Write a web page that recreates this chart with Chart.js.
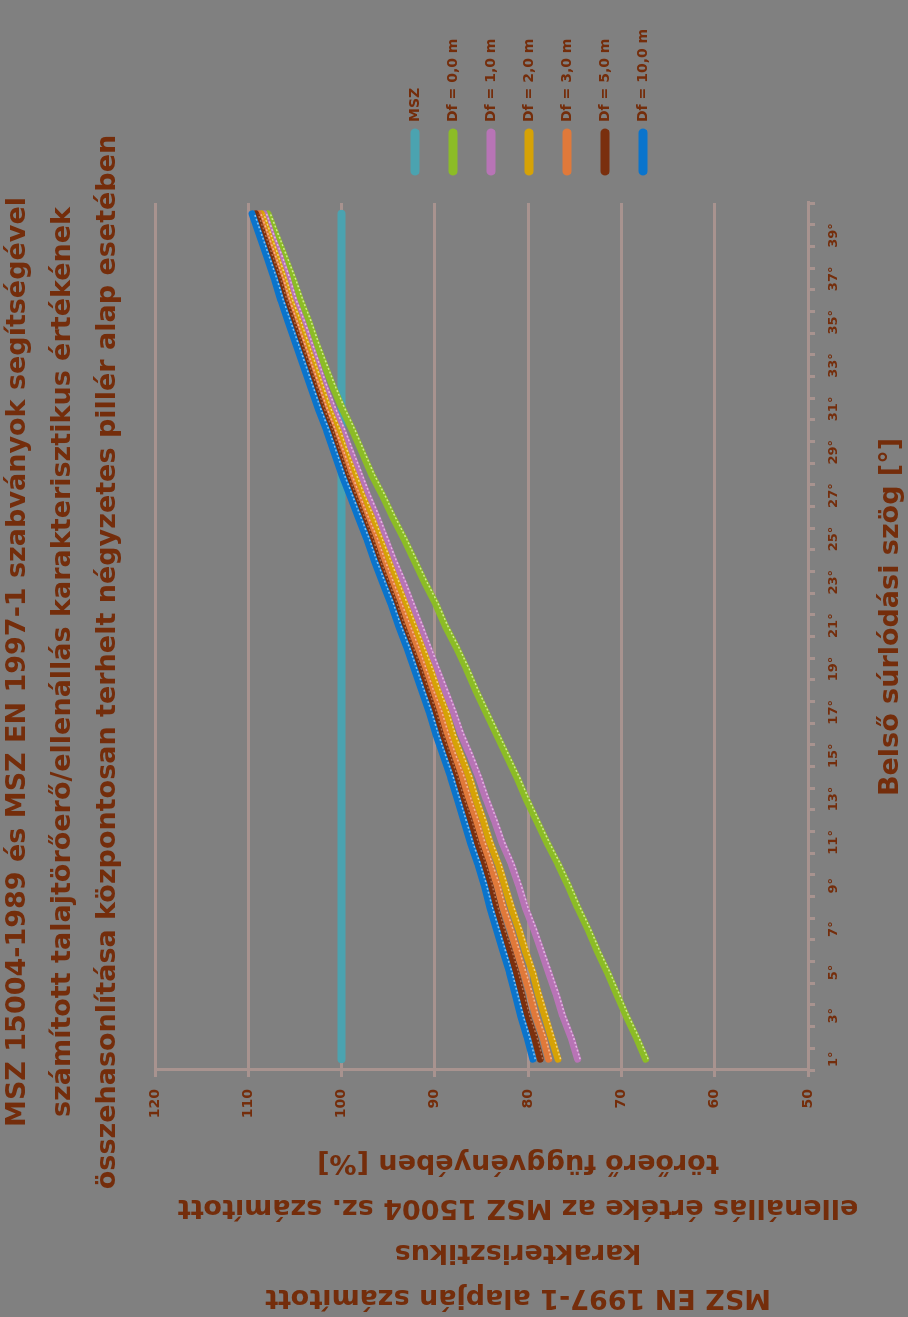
<!DOCTYPE html>
<html>
<head>
<meta charset="utf-8">
<script src="https://cdn.jsdelivr.net/npm/chart.js@4.4.1/dist/chart.umd.min.js"></script>
<style>
  html, body { margin: 0; padding: 0; background: #808080; overflow: hidden; }
  #wrap {
    position: absolute; left: 0; top: 0;
    width: 1317px; height: 908px;
    transform-origin: 0 0;
    transform: translate(0, 1317px) rotate(-90deg);
  }
</style>
</head>
<body>
<div id="wrap"><canvas id="chart" width="1317" height="908"></canvas></div>
<script>
const degrees = ['1°','2°','3°','4°','5°','6°','7°','8°','9°','10°','11°','12°','13°','14°','15°','16°','17°','18°','19°','20°',
    '21°','22°','23°','24°','25°','26°','27°','28°','29°','30°','31°','32°','33°','34°','35°','36°','37°','38°','39°','40°'];

const msz = [100,100,100,100,100,100,100,100,100,100,100,100,100,100,100,100,100,100,100,100,
    100,100,100,100,100,100,100,100,100,100,100,100,100,100,100,100,100,100,100,100];
const df00 = [67.4,68.4,69.5,70.5,71.5,72.6,73.6,74.7,75.7,76.8,78.0,79.1,80.2,81.2,82.3,83.4,84.5,85.6,86.6,87.7,
    88.9,89.9,91.1,92.2,93.3,94.5,95.6,96.8,97.8,98.8,99.9,100.9,101.8,102.7,103.5,104.4,105.2,106.1,107.0,107.9];
const df10 = [74.7,75.4,76.3,77.0,77.8,78.6,79.4,80.3,81.0,81.8,82.8,83.6,84.5,85.3,86.2,87.2,88.0,88.9,89.8,90.7,
    91.6,92.5,93.4,94.4,95.3,96.2,97.2,98.1,99.0,99.9,100.9,101.8,102.6,103.4,104.2,105.1,105.8,106.6,107.5,108.3];
const df20 = [76.8,77.5,78.2,78.9,79.5,80.3,81.0,81.8,82.5,83.2,84.1,84.8,85.6,86.3,87.2,88.1,88.8,89.7,90.5,91.4,
    92.3,93.2,94.1,95.0,95.9,96.8,97.8,98.7,99.6,100.4,101.4,102.2,103.0,103.8,104.6,105.5,106.2,107.0,107.8,108.6];
const df30 = [77.8,78.4,79.2,79.8,80.5,81.2,81.9,82.7,83.3,84.1,84.9,85.6,86.4,87.1,88.0,88.8,89.5,90.4,91.2,92.0,
    92.9,93.8,94.7,95.6,96.4,97.4,98.3,99.2,100.0,100.9,101.8,102.6,103.4,104.2,105.0,105.8,106.5,107.3,108.1,108.9];
const df50 = [78.7,79.3,80.1,80.7,81.3,82.0,82.8,83.5,84.1,84.8,85.6,86.3,87.1,87.8,88.6,89.4,90.1,90.9,91.7,92.6,
    93.5,94.3,95.2,96.1,96.9,97.8,98.7,99.6,100.4,101.2,102.1,102.9,103.7,104.5,105.3,106.1,106.8,107.6,108.4,109.2];
const df100 = [79.5,80.1,80.8,81.4,82.0,82.7,83.4,84.1,84.7,85.4,86.2,86.9,87.6,88.3,89.1,89.9,90.6,91.4,92.2,93.0,
    93.9,94.7,95.6,96.5,97.3,98.2,99.1,100.0,100.8,101.6,102.5,103.3,104.1,104.9,105.7,106.5,107.2,108.0,108.8,109.6];

const seriesNames = ['MSZ', 'Df = 0,0 m', 'Df = 1,0 m', 'Df = 2,0 m', 'Df = 3,0 m', 'Df = 5,0 m', 'Df = 10,0 m'];
const seriesColors = ['#4ba3b0', '#8cbc26', '#b874b6', '#d6a206', '#e0793a', '#7a2f0e', '#0a74cc'];
const stripeColors = ['#8fd0da', '#cfe98f', '#e3b8e3', '#f3d27a', '#f5b58c', '#b0704f', '#7fc0f5'];

const titleLines = [
    'MSZ 15004-1989 és MSZ EN 1997-1 szabványok segítségével',
    'számított talajtörőerő/ellenállás karakterisztikus értékének',
    'összehasonlítása központosan terhelt négyzetes pillér alap esetében'
];
const yTitleLines = [
    'MSZ EN 1997-1 alapján számított',
    'karakterisztikus',
    'ellenállás értéke az MSZ 15004 sz. számított',
    'törőerő függvényében [%]'
];
const xTitle = 'Belső súrlódási szög [°]';

const textColor = '#742d0b';
const gridColor = '#a8938f';
const fontFamily = '"DejaVu Sans", sans-serif';

const values = [msz, df00, df10, df20, df30, df50, df100];

// light dotted edge on the series lines, like the excel line texture
const stripePlugin = {
    id: 'stripes',
    afterDatasetsDraw(chart) {
        const ctx = chart.ctx;
        ctx.save();
        ctx.beginPath();
        ctx.rect(chart.chartArea.left, chart.chartArea.top - 10, chart.chartArea.width, chart.chartArea.height + 20);
        ctx.clip();
        for (let i = chart.data.datasets.length - 1; i >= 1; i--) {
            const pts = chart.getDatasetMeta(i).data;
            ctx.strokeStyle = stripeColors[i];
            ctx.lineWidth = 1.5;
            ctx.setLineDash([2, 2]);
            ctx.beginPath();
            pts.forEach((p, j) => {
                if (j === 0) ctx.moveTo(p.x, p.y + 2.5);
                else ctx.lineTo(p.x, p.y + 2.5);
            });
            ctx.stroke();
        }
        ctx.restore();
    }
};

const textPlugin = {
    id: 'texts',
    afterDraw(chart) {
        const ctx = chart.ctx;
        ctx.save();
        ctx.fillStyle = textColor;
        ctx.font = 'bold 27px ' + fontFamily;
        ctx.textAlign = 'center';
        ctx.textBaseline = 'alphabetic';
        titleLines.forEach((t, i) => ctx.fillText(t, 655, 25 + i * 45));
        ctx.fillText(xTitle, 700, 898);

        yTitleLines.forEach((t, i) => {
            ctx.save();
            ctx.translate(27 + i * 45, 518);
            ctx.rotate(-Math.PI / 2);
            ctx.fillText(t, 0, 0);
            ctx.restore();
        });

        // legend
        ctx.font = 'bold 14px ' + fontFamily;
        ctx.textAlign = 'left';
        ctx.textBaseline = 'middle';
        chart.data.datasets.forEach((ds, i) => {
            const y = 415 + i * 38;
            ctx.strokeStyle = ds.borderColor;
            ctx.lineWidth = 9;
            ctx.lineCap = 'round';
            ctx.beginPath();
            ctx.moveTo(1146, y);
            ctx.lineTo(1184, y);
            ctx.stroke();
            ctx.fillStyle = textColor;
            ctx.fillText(ds.label, 1195, y);
        });
        ctx.restore();
    }
};

new Chart(document.getElementById('chart'), {
    type: 'line',
    data: {
        labels: degrees,
        datasets: values.map((v, i) => ({
            label: seriesNames[i],
            data: v,
            borderColor: seriesColors[i],
            backgroundColor: seriesColors[i],
            borderWidth: i === 0 ? 8 : 7,
            borderCapStyle: 'round',
            borderJoinStyle: 'round',
            pointRadius: 0,
            tension: 0,
            order: 7 - i
        }))
    },
    options: {
        responsive: false,
        animation: false,
        layout: { padding: { left: 0, top: 155, right: 203, bottom: 0 } },
        plugins: {
            legend: { display: false },
            title: { display: false },
            tooltip: { enabled: false }
        },
        scales: {
            x: {
                offset: true,
                grid: { drawOnChartArea: false, offset: true, tickLength: 7, color: gridColor, lineWidth: 3 },
                border: { color: gridColor, width: 3 },
                ticks: {
                    autoSkip: false,
                    maxRotation: 0,
                    padding: 11,
                    color: textColor,
                    font: { family: fontFamily, size: 13, weight: 'bold' },
                    callback: function (v, i) { return i % 2 === 0 ? this.getLabelForValue(v) : ''; }
                },
                afterFit: (scale) => { scale.height = 100; }
            },
            y: {
                min: 50,
                max: 120,
                ticks: {
                    stepSize: 10,
                    padding: 12,
                    color: textColor,
                    font: { family: fontFamily, size: 14, weight: 'bold' }
                },
                grid: { color: gridColor, lineWidth: 3, tickLength: 7 },
                border: { color: gridColor, width: 3 },
                afterFit: (scale) => { scale.width = 247; }
            }
        }
    },
    plugins: [stripePlugin, textPlugin]
});
</script>
</body>
</html>
